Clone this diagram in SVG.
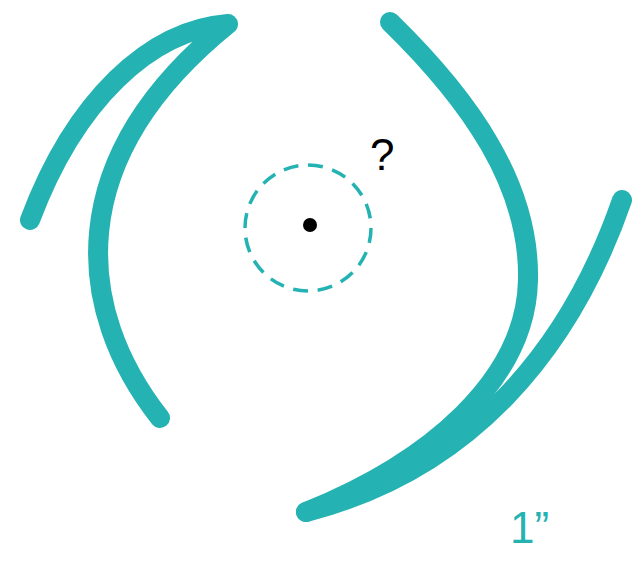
<svg xmlns="http://www.w3.org/2000/svg" width="643" height="567" viewBox="0 0 643 567">
<style>
.arc{fill:none;stroke:#24B2B2;stroke-width:20;stroke-linecap:round;stroke-linejoin:round}
.lbl{font-family:"Liberation Sans",Arial,sans-serif}
</style>
<rect width="643" height="567" fill="#fff"/>
<g id="left-arc">
<path class="arc" d="M30,220 C75,100 150,30 228,24 C60,160 75,310 160,418"/>
</g>
<g id="right-arc">
<path class="arc" d="M390,22 C470,100 530,185 528,280 C526,380 430,462 306,512"/>
<path class="arc" d="M622,200 C570,350 470,470 306,512"/>
</g>
<g id="target">
<circle cx="308" cy="228" r="63" fill="none" stroke="#24B2B2" stroke-width="3.5" stroke-dasharray="15 9.7"/>
<circle cx="310" cy="225" r="7" fill="#000"/>
</g>
<text class="lbl" x="370" y="170" font-size="44" fill="#000">?</text>
<text class="lbl" x="510" y="543" font-size="44" fill="#24B2B2">1”</text>
</svg>
